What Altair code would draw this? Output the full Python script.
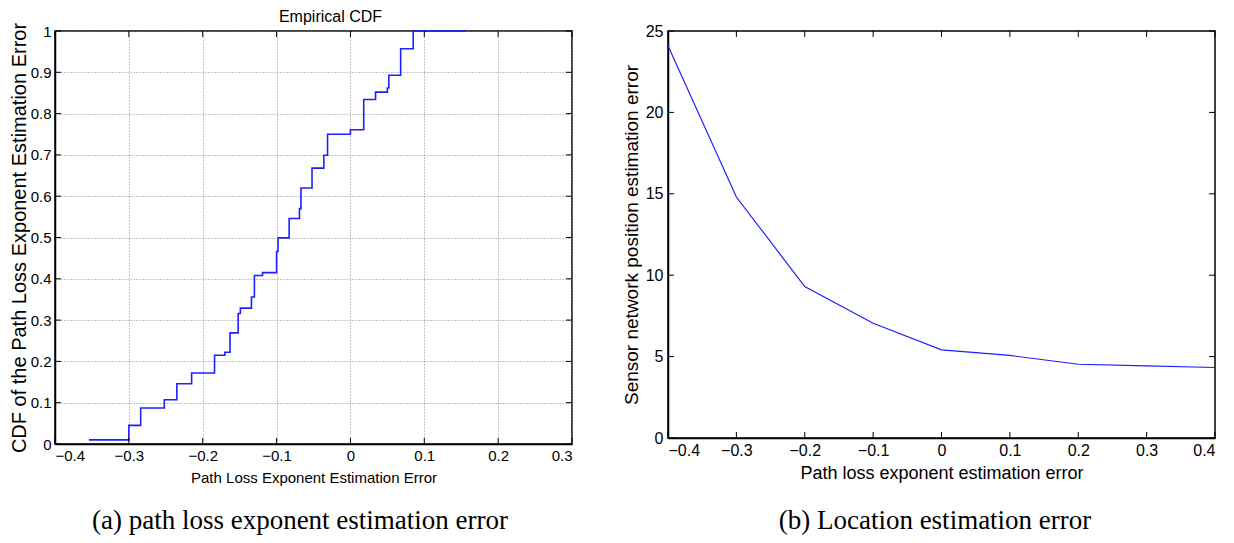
import altair as alt
import pandas as pd

# ---- Data ----
cdf_x = [-0.354, -0.300, -0.284, -0.252, -0.235, -0.215, -0.184, -0.170, -0.163,
         -0.152, -0.149, -0.134, -0.130, -0.119, -0.100, -0.098, -0.083, -0.069,
         -0.067, -0.052, -0.036, -0.031, 0.000, 0.018, 0.034, 0.050, 0.052,
         0.068, 0.085, 0.156]
cdf_y = [0.010, 0.045, 0.087, 0.107, 0.146, 0.172, 0.215, 0.222, 0.269,
         0.316, 0.329, 0.356, 0.408, 0.415, 0.466, 0.499, 0.546, 0.570,
         0.620, 0.668, 0.699, 0.750, 0.761, 0.834, 0.852, 0.862, 0.893,
         0.957, 1.000, 1.000]

loc_x = [-0.4, -0.3, -0.2, -0.1, 0.0, 0.1, 0.2, 0.3, 0.4]
loc_y = [24.1, 14.8, 9.3, 7.05, 5.41, 5.07, 4.53, 4.43, 4.33]

left_xticks = [-0.4, -0.3, -0.2, -0.1, 0.0, 0.1, 0.2, 0.3]
left_yticks = [0, 0.1, 0.2, 0.3, 0.4, 0.5, 0.6, 0.7, 0.8, 0.9, 1.0]
right_xticks = [-0.4, -0.3, -0.2, -0.1, 0.0, 0.1, 0.2, 0.3, 0.4]
right_yticks = [0, 5, 10, 15, 20, 25]

left_title = "Empirical CDF"
caption_a = "(a) path loss exponent estimation error"
caption_b = "(b) Location estimation error"

FONT = "Liberation Sans"
SERIF = "Liberation Serif"
BLUE = "#1f1fff"
TL = 6

# ---- Left panel ----
LW, LH = 517, 413
xs_l = alt.Scale(domain=[-0.4, 0.3], nice=False, zero=False)
ys_l = alt.Scale(domain=[0, 1], nice=False)

cdf_df = pd.DataFrame({"x": cdf_x, "y": cdf_y})
lxt = pd.DataFrame({"x": left_xticks})
lyt = pd.DataFrame({"y": left_yticks})

step = alt.Chart(cdf_df).mark_line(interpolate="step-after", color=BLUE, strokeWidth=1.6).encode(
    x=alt.X("x:Q", scale=xs_l, axis=alt.Axis(values=left_xticks, format="~g", grid=True,
            labelFontSize=15, titleFontSize=15,
            title="Path Loss Exponent Estimation Error", titlePadding=7)),
    y=alt.Y("y:Q", scale=ys_l, axis=alt.Axis(values=left_yticks, format="~g", grid=True,
            labelFontSize=15, labelPadding=4, titleFontSize=20,
            title="CDF of the Path Loss Exponent Estimation Error", titlePadding=1)),
)
lt_b = alt.Chart(lxt).mark_rule(color="black").encode(
    x=alt.X("x:Q", scale=xs_l), y=alt.value(LH), y2=alt.value(LH - TL))
lt_t = alt.Chart(lxt).mark_rule(color="black").encode(
    x=alt.X("x:Q", scale=xs_l), y=alt.value(0), y2=alt.value(TL))
lt_l = alt.Chart(lyt).mark_rule(color="black").encode(
    y=alt.Y("y:Q", scale=ys_l), x=alt.value(0), x2=alt.value(TL))
lt_r = alt.Chart(lyt).mark_rule(color="black").encode(
    y=alt.Y("y:Q", scale=ys_l), x=alt.value(LW), x2=alt.value(LW - TL))
ttl = alt.Chart(pd.DataFrame({"c": [left_title]})).mark_text(
    font=FONT, fontSize=16, color="black", align="center", baseline="middle").encode(
    text="c:N", x=alt.value(LW / 2 + 17), y=alt.value(-14))
cap_a = alt.Chart(pd.DataFrame({"c": [caption_a]})).mark_text(
    font=SERIF, fontSize=27, color="black", align="center", baseline="middle").encode(
    text="c:N", x=alt.value(245), y=alt.value(490))

left = alt.layer(step, lt_b, lt_t, lt_l, lt_r, ttl, cap_a).properties(width=LW, height=LH)

# ---- Right panel ----
RW, RH = 547, 407
xs_r = alt.Scale(domain=[-0.4, 0.4], nice=False, zero=False)
ys_r = alt.Scale(domain=[0, 25], nice=False)
loc_df = pd.DataFrame({"x": loc_x, "y": loc_y})
rxt = pd.DataFrame({"x": right_xticks})
ryt = pd.DataFrame({"y": right_yticks})

line = alt.Chart(loc_df).mark_line(color=BLUE, strokeWidth=1.2).encode(
    x=alt.X("x:Q", scale=xs_r, axis=alt.Axis(values=right_xticks, format="~g", grid=False,
            labelFontSize=16, titleFontSize=18,
            title="Path loss exponent estimation error", titlePadding=6)),
    y=alt.Y("y:Q", scale=ys_r, axis=alt.Axis(values=right_yticks, format="~g", grid=False,
            labelFontSize=16, labelPadding=5, titleFontSize=19,
            title="Sensor network position estimation error", titlePadding=4)),
)
rt_b = alt.Chart(rxt).mark_rule(color="black").encode(
    x=alt.X("x:Q", scale=xs_r), y=alt.value(RH), y2=alt.value(RH - TL))
rt_t = alt.Chart(rxt).mark_rule(color="black").encode(
    x=alt.X("x:Q", scale=xs_r), y=alt.value(0), y2=alt.value(TL))
rt_l = alt.Chart(ryt).mark_rule(color="black").encode(
    y=alt.Y("y:Q", scale=ys_r), x=alt.value(0), x2=alt.value(TL))
rt_r = alt.Chart(ryt).mark_rule(color="black").encode(
    y=alt.Y("y:Q", scale=ys_r), x=alt.value(RW), x2=alt.value(RW - TL))
cap_b = alt.Chart(pd.DataFrame({"c": [caption_b]})).mark_text(
    font=SERIF, fontSize=27, color="black", align="center", baseline="middle").encode(
    text="c:N", x=alt.value(267), y=alt.value(490))

right = alt.layer(line, rt_b, rt_t, rt_l, rt_r, cap_b).properties(width=RW, height=RH)

chart = alt.hconcat(
    left, right, spacing=47,
    padding={"left": 0, "top": 0, "right": 0, "bottom": 0},
).configure_view(
    stroke="black", strokeWidth=1.5
).configure_axis(
    labelFont=FONT, labelFontSize=13, labelColor="black", labelPadding=4,
    titleFont=FONT, titleFontSize=14, titleFontWeight="normal", titleColor="black",
    domainColor="black", domainWidth=1.5, ticks=False,
    gridColor="#8a8a8a", gridDash=[1, 2], gridWidth=1,
)

chart.save("out.html", embed_options={"renderer": "svg", "actions": False})
